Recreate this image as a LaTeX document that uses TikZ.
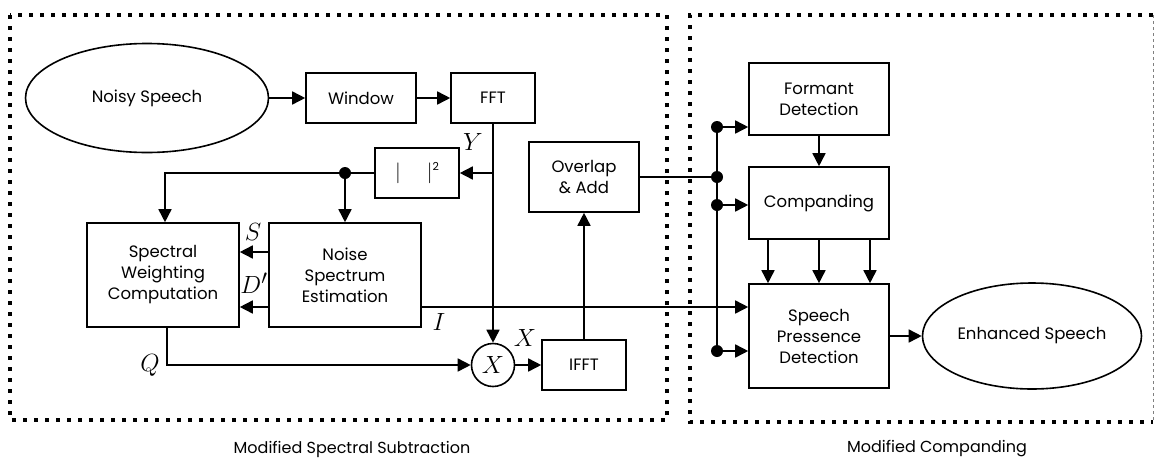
\documentclass[tikz,border=0pt]{standalone}
\usepackage{fontspec}
\setmainfont{Poppins}
\usetikzlibrary{arrows.meta,shapes.geometric,positioning}
\newcommand\blkfont{\fontsize{16.5}{21}\selectfont}
\newcommand\symfont{\fontsize{29}{29}\selectfont}
\tikzset{
  blk/.style={rectangle, draw, line width=1.6pt, align=center, inner sep=0pt, font=\blkfont},
  terminal/.style={ellipse, draw, line width=1.6pt, inner sep=0pt, font=\blkfont},
  mulnode/.style={circle, draw, line width=1.6pt, minimum size=43pt, inner sep=0pt, font=\symfont},
  tapdot/.style={circle, fill, minimum size=12pt, inner sep=0pt},
  sig/.style={-{Triangle[length=13pt,width=13pt]}, line width=1.6pt},
  wire/.style={line width=1.6pt},
  symlbl/.style={font=\symfont, inner sep=0pt},
  frame/.style={line width=4pt, dash pattern=on 4pt off 7pt},
  caption/.style={font=\fontsize{16}{18}\selectfont},
}
\begin{document}
\begin{tikzpicture}[x=1pt,y=-1pt]
  \useasboundingbox (0,0) rectangle (1156,461);
  % frames
  \draw[frame] (10,15) rectangle (667,420);
  \draw[frame] (1153,15) -| (690,422) -- (1153,422);
  \draw[gray, line width=0.6pt, dashed] (1153,15) -- (1153,422);
  \node[caption] (capL) at (352,449) {Modified Spectral Subtraction};
  \node[caption] (capR) at (937,449) {Modified Companding};
  % spectral subtraction
  \node[terminal, minimum width=243pt, minimum height=109pt] (noisy) at (147,98) {Noisy Speech};
  \node[blk, minimum width=110pt, minimum height=50pt] (win) at (361,98) {Window};
  \node[blk, minimum width=84pt, minimum height=50pt] (fft) at (493,98) {FFT};
  \node[blk, minimum width=84pt, minimum height=50pt] (mag) at (417,173)
    {{\fontsize{22}{22}\selectfont$|$\hspace{26pt}$|$}\raisebox{8pt}{\fontsize{11}{11}\selectfont 2}};
  \node[blk, minimum width=152pt, minimum height=104pt] (sw) at (163,275) {Spectral\\Weighting\\Computation};
  \node[blk, minimum width=152pt, minimum height=104pt] (nse) at (345,275) {Noise\\Spectrum\\Estimation};
  \node[mulnode] (mult) at (493,365) {$X$};
  \node[blk, minimum width=84pt, minimum height=50pt] (ifft) at (584,365) {IFFT};
  \node[blk, minimum width=110pt, minimum height=70pt] (ola) at (584,177) {Overlap\\\& Add};
  \draw[sig] (noisy) -- (win);
  \draw[sig] (win) -- (fft);
  \draw[sig] (fft.south) -- (mult.north);
  \coordinate (ytap) at (fft.south |- mag.east);
  \draw[sig] (ytap) -- (mag.east);
  \node[symlbl] (ylbl) at (473,142) {$Y$};
  \node[tapdot] (magdot) at (345,173) {};
  \draw[sig] (mag.west) -| ([xshift=2pt]sw.north);
  \draw[sig] (magdot) -- (nse.north);
  \draw[sig] ([yshift=23pt]nse.west) -- ([yshift=23pt]sw.east);
  \draw[sig] ([yshift=-32pt]nse.west) -- ([yshift=-32pt]sw.east);
  \node[symlbl] (slbl) at (253,232) {$S$};
  \node[symlbl] (dlbl) at (254,283) {$D'$};
  \draw[sig] ([xshift=4pt]sw.south) |- (mult.west);
  \node[symlbl] (qlbl) at (150,365) {$Q$};
  \draw[sig] (mult) -- (ifft);
  \node[symlbl] (xlbl) at (525,338) {$X$};
  \draw[sig] (ifft.north) -- (ola.south);
  % companding
  \node[blk, minimum width=140pt, minimum height=72pt] (fd) at (819,99) {Formant\\Detection};
  \node[blk, minimum width=140pt, minimum height=72pt] (comp) at (819,203) {Companding};
  \node[blk, minimum width=140pt, minimum height=104pt] (spd) at (819,336) {Speech\\Pressence\\Detection};
  \node[terminal, minimum width=219pt, minimum height=106pt] (enh) at (1032,336) {Enhanced Speech};
  \node[tapdot] (busA) at (717,127) {};
  \node[tapdot] (busB) at (717,177) {};
  \node[tapdot] (busC) at (717,205) {};
  \node[tapdot] (busD) at (717,351) {};
  \draw[wire] (busA.center) -- (busD.center);
  \draw[wire] (ola.east |- busB) -- (busB);
  \draw[sig] (busA) -- (busA -| fd.west);
  \draw[sig] (busC) -- (busC -| comp.west);
  \draw[sig] (busD) -- (busD -| spd.west);
  \draw[sig] ([yshift=-32pt]nse.east) -- ([yshift=-32pt]nse.east -| spd.west);
  \node[symlbl] (ilbl) at (439,322) {$I$};
  \draw[sig] (fd) -- (comp);
  \foreach \dx in {-51,0,51}
    \draw[sig] ([xshift=\dx pt]comp.south) -- ([xshift=\dx pt]spd.north);
  \draw[sig] (spd) -- (enh);
\end{tikzpicture}
\end{document}
